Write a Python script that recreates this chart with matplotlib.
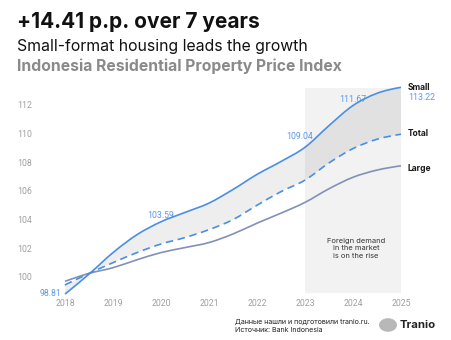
import matplotlib

matplotlib.use("Agg")
import matplotlib.pyplot as plt
import numpy as np
from matplotlib.patches import Circle, PathPatch
from matplotlib.path import Path

# half-year sample points
years = [2018.0, 2018.5, 2019.0, 2019.5, 2020.0, 2020.5, 2021.0, 2021.5,
         2022.0, 2022.5, 2023.0, 2023.5, 2024.0, 2024.5, 2025.0]
small = [98.81, 100.2, 101.7, 102.95, 103.85, 104.5, 105.15, 106.1,
         107.15, 108.05, 109.04, 110.55, 111.95, 112.8, 113.22]
total = [99.45, 100.25, 101.0, 101.7, 102.3, 102.75, 103.3, 104.0,
         105.0, 105.95, 106.75, 107.95, 108.95, 109.6, 109.95]
large = [99.7, 100.25, 100.65, 101.2, 101.7, 102.05, 102.4, 103.0,
         103.75, 104.45, 105.2, 106.15, 106.95, 107.45, 107.75]

x_ticks = [2018, 2019, 2020, 2021, 2022, 2023, 2024, 2025]
y_ticks = [100, 102, 104, 106, 108, 110, 112]

# value callouts on the small-format line
callout_x = [2017.70, 2019.99, 2022.88, 2023.99]
callout_y = [98.86, 104.32, 109.78, 112.38]
callout_txt = ["98.81", "103.59", "109.04", "111.67"]

BLUE = "#4a8fe3"
LARGE = "#8390b8"
TXT = "#1a1a1a"


def monotone_path(xs, ys):
    # smooth monotone-x bezier through the data points (like d3 curveMonotoneX)
    xs = np.asarray(xs, float)
    ys = np.asarray(ys, float)
    h = np.diff(xs)
    s = np.diff(ys) / h
    m = np.zeros_like(ys)
    for i in range(1, len(xs) - 1):
        if s[i - 1] * s[i] <= 0:
            m[i] = 0
        else:
            p = (s[i - 1] * h[i] + s[i] * h[i - 1]) / (h[i - 1] + h[i])
            m[i] = (np.sign(s[i - 1]) + np.sign(s[i])) * min(abs(s[i - 1]), abs(s[i]), 0.5 * abs(p))
    m[0] = (3 * s[0] - m[1]) / 2
    m[-1] = (3 * s[-1] - m[-2]) / 2
    verts = [(xs[0], ys[0])]
    codes = [Path.MOVETO]
    for i in range(len(xs) - 1):
        d = h[i] / 3
        verts += [(xs[i] + d, ys[i] + d * m[i]), (xs[i + 1] - d, ys[i + 1] - d * m[i + 1]),
                  (xs[i + 1], ys[i + 1])]
        codes += [Path.CURVE4] * 3
    return verts, codes


W, H = 451, 340
fig = plt.figure(figsize=(W / 100, H / 100), dpi=100)
fig.patch.set_facecolor("white")

# axes placed in pixel coordinates
left, right, top, bottom = 65, 401, 86, 296
ax = fig.add_axes([left / W, 1 - bottom / H, (right - left) / W, (bottom - top) / H])
ax.set_xlim(2018, 2025)
y0 = 100 - (bottom - 277) / 14.35
y1 = 100 + (277 - top) / 14.35
ax.set_ylim(y0, y1)

ax.axvspan(2023, 2025, ymin=(bottom - 293) / (bottom - top), ymax=(bottom - 88) / (bottom - top),
           color="#f2f2f2", lw=0, zorder=0)

# band between small and total
vs, cs = monotone_path(years, small)
vt, ct = monotone_path(years[::-1], total[::-1])
band = Path(vs + vt + [vs[0]], cs + [Path.LINETO] + ct[1:] + [Path.CLOSEPOLY])
ax.add_patch(PathPatch(band, facecolor="black", alpha=0.065, lw=0, zorder=1))

for ys, col, ls, z in [(large, LARGE, "-", 3), (total, BLUE, (0, (4.5, 2.8)), 3), (small, BLUE, "-", 4)]:
    v, c = monotone_path(years, ys)
    ax.add_patch(PathPatch(Path(v, c), facecolor="none", edgecolor=col, lw=1.2, linestyle=ls,
                           zorder=z, clip_on=False, capstyle="butt"))

for cx, cy, t in zip(callout_x, callout_y, callout_txt):
    ax.text(cx, cy, t, color="#5b9ae6", fontsize=6.3, family="Roboto", ha="center", va="center")

ax.set_xticks(x_ticks)
ax.set_xticklabels([str(v) for v in x_ticks])
ax.set_yticks(y_ticks)
ax.set_yticklabels([str(v) for v in y_ticks])
ax.tick_params(length=0, labelsize=6.3, labelcolor="#a0a0a0")
ax.tick_params(axis="y", pad=23.5)
ax.tick_params(axis="x", pad=2)
for lab in ax.get_xticklabels() + ax.get_yticklabels():
    lab.set_family("Roboto")
for s in ax.spines.values():
    s.set_visible(False)
ax.set_facecolor("none")


def fig_text(x, y, s, **kw):
    fig.text(x / W, 1 - y / H, s, **kw)


# end-of-line labels
fig_text(408, 87.5, "Small", fontsize=6.1, weight="bold", color=TXT, family="Inter", va="center")
fig_text(408, 97, "113.22", fontsize=6.3, color="#5b9ae6", family="Roboto", va="center")
fig_text(408, 134, "Total", fontsize=6.1, weight="bold", color=TXT, family="Inter", va="center")
fig_text(408, 168.5, "Large", fontsize=6.1, weight="bold", color=TXT, family="Inter", va="center")

fig_text(356, 248, "Foreign demand\nin the market\nis on the rise", fontsize=5.4, color="#333333",
         family="Inter", ha="center", va="center", linespacing=1.3)

# titles
fig_text(17, 22, "+14.41 p.p. over 7 years", fontsize=15, weight="bold", color="#111111",
         family="Inter", va="center")
fig_text(17, 46, "Small-format housing leads the growth", fontsize=11.4, color="#111111",
         family="Inter", va="center")
fig_text(17, 66, "Indonesia Residential Property Price Index", fontsize=11.3, weight="bold",
         color="#8a8a8a", family="Inter", va="center")

# footer
fig_text(235, 322, "Данные нашли и подготовили tranio.ru.", fontsize=5.1, color="#222222",
         family="Inter", va="center")
fig_text(235, 329.5, "Источник: Bank Indonesia", fontsize=5.1, color="#222222",
         family="Inter", va="center")
fig.patches.append(Circle((388 / W, 1 - 325 / H), 9 / W, transform=fig.transFigure,
                          facecolor="#b8b8b8", edgecolor="none"))
fig_text(400, 325, "Tranio", fontsize=8.2, weight="bold", color="#222222", family="Inter", va="center")

fig.savefig("out.png", dpi=100)
